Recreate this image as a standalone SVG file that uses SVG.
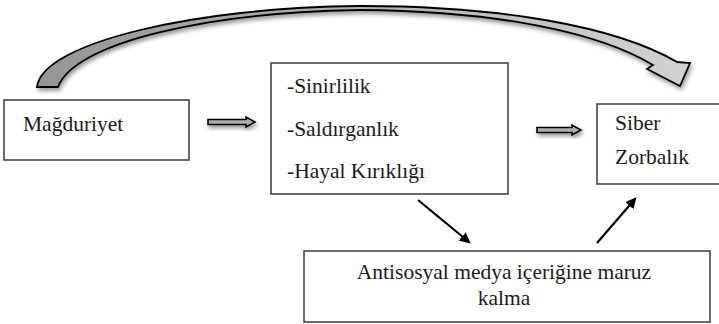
<svg xmlns="http://www.w3.org/2000/svg" width="719" height="324" viewBox="0 0 719 324">
<style>
.box{fill:#fff;stroke:#3a3a3a;stroke-width:1.5}
.t{font-family:'Liberation Serif','Times New Roman','DejaVu Serif',serif;font-size:21.5px;fill:#1a1a1a}
.dbl{fill:#b0b0b0;stroke:#000;stroke-width:1.6;stroke-linejoin:miter}
.diag{stroke:#000;stroke-width:2.2;fill:none;marker-end:url(#ah)}
</style>
<defs>
<marker id="ah" viewBox="0 0 10 10" refX="8" refY="5" markerWidth="5" markerHeight="5" orient="auto" markerUnits="strokeWidth">
<path d="M0,0 L10,5 L0,10 Z" fill="#000"/>
</marker>
<linearGradient id="g" x1="0" y1="0" x2="1" y2="0">
<stop offset="0" stop-color="#959595"/>
<stop offset="1" stop-color="#d2d2d2"/>
</linearGradient>
<filter id="sh" x="-10%" y="-20%" width="120%" height="160%">
<feDropShadow dx="1.5" dy="3" stdDeviation="2" flood-color="#000" flood-opacity="0.4"/>
</filter>
</defs>
<g id="connectors">
<path id="curved" filter="url(#sh)" fill="url(#g)" stroke="#000" stroke-width="1.8" stroke-linejoin="miter" d="M37,87 C42,42 200,7 360,6 C500,6 615,26 677,62 L690,63 L680,86 L647,69 L653,65 C600,33 500,11 360,10 C210,12 75,42 58,87 Z"/>
<path id="dbl1" class="dbl" filter="url(#sh)" d="M208,119.5 L246,119.5 L246,117 L255,122 L246,127 L246,124.5 L208,124.5 Z"/>
<path id="dbl2" class="dbl" filter="url(#sh)" d="M537,127.5 L572,127.5 L572,125 L581,130 L572,135 L572,132.5 L537,132.5 Z"/>
<line class="diag" x1="418" y1="200" x2="469" y2="242"/>
<line class="diag" x1="597" y1="243" x2="635" y2="199"/>
</g>
<g id="n-magduriyet">
<rect class="box" x="4" y="100" width="185" height="60"/>
<text class="t" x="23" y="131">Mağduriyet</text>
</g>
<g id="n-duygular">
<rect class="box" x="271" y="63" width="237" height="131"/>
<text class="t" x="287" y="93">-Sinirlilik</text>
<text class="t" x="287" y="136">-Saldırganlık</text>
<text class="t" x="287" y="178">-Hayal Kırıklığı</text>
</g>
<g id="n-siber">
<rect class="box" x="597" y="104" width="130" height="80"/>
<text class="t" x="615" y="130">Siber</text>
<text class="t" x="615" y="164">Zorbalık</text>
</g>
<g id="n-antisosyal">
<rect class="box" x="304" y="251" width="406" height="71"/>
<text class="t" x="504" y="279" text-anchor="middle">Antisosyal medya içeriğine maruz</text>
<text class="t" x="504" y="305" text-anchor="middle">kalma</text>
</g>
</svg>
